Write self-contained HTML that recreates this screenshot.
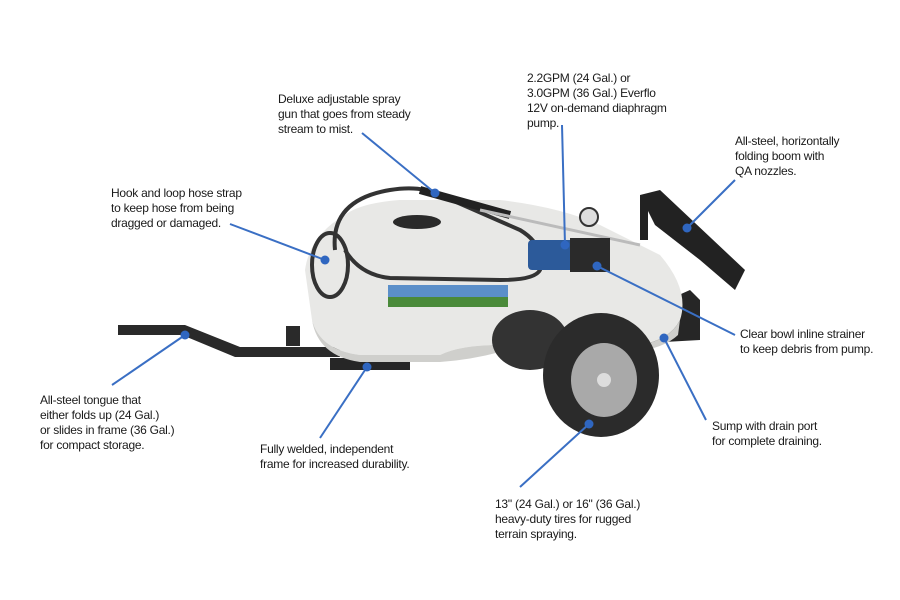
<!DOCTYPE html>
<html><head><meta charset="utf-8"><style>
html,body{margin:0;padding:0;background:#fff;}
svg{display:block}
text{font-family:"Liberation Sans Narrow","Liberation Sans",sans-serif;font-size:12px;letter-spacing:-0.25px;fill:#1a1a1a;}
.l{stroke:#3a6fc4;stroke-width:2;}
.d{fill:#2f66c0;}
</style></head><body>
<svg width="900" height="600" viewBox="0 0 900 600">
<path d="M118,325 L185,325 L240,347 L340,347 L340,357 L235,357 L182,335 L118,335Z" fill="#2a2a2a"/>
<rect x="286" y="326" width="14" height="20" fill="#2a2a2a"/>
<path d="M330,358 L410,358 L410,370 L330,370Z" fill="#262626"/>
<path d="M600,330 L690,290 L700,300 L700,340 L610,345Z" fill="#262626"/>
<path d="M345,215 Q360,203 400,200 L500,200 Q560,207 600,225 L660,255 Q690,290 680,320 Q670,340 640,345 L500,345 Q460,345 440,355 L360,355 Q320,350 312,320 L305,270 Q310,235 345,215Z" fill="#e8e8e6"/>
<path d="M312,320 Q320,350 360,355 L440,355 Q460,345 500,345 L640,345 Q670,340 680,320 L678,335 Q660,352 620,352 L500,352 Q470,360 440,362 L360,362 Q318,356 312,320Z" fill="#cfcfcc"/>
<ellipse cx="417" cy="222" rx="24" ry="7" fill="#2a2a2a"/>
<rect x="388" y="285" width="120" height="22" fill="#5b8fc9"/>
<rect x="388" y="297" width="120" height="10" fill="#4a8a3a"/>
<path d="M335,250 Q330,200 390,190 Q420,185 440,195 L520,230 Q545,245 540,270 Q535,280 500,280 L390,278 Q360,275 345,250" fill="none" stroke="#333" stroke-width="4"/>
<ellipse cx="330" cy="265" rx="18" ry="32" fill="none" stroke="#333" stroke-width="4"/>
<path d="M420,190 L510,215" stroke="#222" stroke-width="8"/>
<path d="M480,210 L640,245" stroke="#bbb" stroke-width="3"/>
<rect x="528" y="240" width="50" height="30" rx="4" fill="#2c5a9a"/>
<rect x="570" y="238" width="40" height="34" fill="#2a2a2a"/>
<circle cx="589" cy="217" r="9" fill="#ddd" stroke="#333" stroke-width="2"/>
<path d="M640,195 L660,190 L745,270 L735,290 L700,260 L655,225Z" fill="#222"/>
<rect x="640" y="195" width="8" height="45" fill="#222"/>
<ellipse cx="530" cy="340" rx="38" ry="30" fill="#333"/>
<ellipse cx="601" cy="375" rx="58" ry="62" fill="#2b2b2b"/>
<ellipse cx="604" cy="380" rx="33" ry="37" fill="#a9a9a9"/>
<circle cx="604" cy="380" r="7" fill="#ddd"/>
<line class="l" x1="362" y1="133" x2="435" y2="193"/><circle class="d" cx="435" cy="193" r="4.5"/>
<line class="l" x1="562" y1="125" x2="565" y2="245"/><circle class="d" cx="565" cy="245" r="4.5"/>
<line class="l" x1="735" y1="180" x2="687" y2="228"/><circle class="d" cx="687" cy="228" r="4.5"/>
<line class="l" x1="230" y1="224" x2="325" y2="260"/><circle class="d" cx="325" cy="260" r="4.5"/>
<line class="l" x1="735" y1="335" x2="597" y2="266"/><circle class="d" cx="597" cy="266" r="4.5"/>
<line class="l" x1="112" y1="385" x2="185" y2="335"/><circle class="d" cx="185" cy="335" r="4.5"/>
<line class="l" x1="320" y1="438" x2="367" y2="367"/><circle class="d" cx="367" cy="367" r="4.5"/>
<line class="l" x1="520" y1="487" x2="589" y2="424"/><circle class="d" cx="589" cy="424" r="4.5"/>
<line class="l" x1="706" y1="420" x2="664" y2="338"/><circle class="d" cx="664" cy="338" r="4.5"/>
<text x="278" y="103">Deluxe adjustable spray</text>
<text x="278" y="118">gun that goes from steady</text>
<text x="278" y="133">stream to mist.</text>
<text x="527" y="82">2.2GPM (24 Gal.) or</text>
<text x="527" y="97">3.0GPM (36 Gal.) Everflo</text>
<text x="527" y="112">12V on-demand diaphragm</text>
<text x="527" y="127">pump.</text>
<text x="735" y="145">All-steel, horizontally</text>
<text x="735" y="160">folding boom with</text>
<text x="735" y="175">QA nozzles.</text>
<text x="111" y="197">Hook and loop hose strap</text>
<text x="111" y="212">to keep hose from being</text>
<text x="111" y="227">dragged or damaged.</text>
<text x="740" y="338">Clear bowl inline strainer</text>
<text x="740" y="353">to keep debris from pump.</text>
<text x="40" y="404">All-steel tongue that</text>
<text x="40" y="419">either folds up (24 Gal.)</text>
<text x="40" y="434">or slides in frame (36 Gal.)</text>
<text x="40" y="449">for compact storage.</text>
<text x="260" y="453">Fully welded, independent</text>
<text x="260" y="468">frame for increased durability.</text>
<text x="495" y="508">13" (24 Gal.) or 16" (36 Gal.)</text>
<text x="495" y="523">heavy-duty tires for rugged</text>
<text x="495" y="538">terrain spraying.</text>
<text x="712" y="430">Sump with drain port</text>
<text x="712" y="445">for complete draining.</text>
</svg>
</body></html>
